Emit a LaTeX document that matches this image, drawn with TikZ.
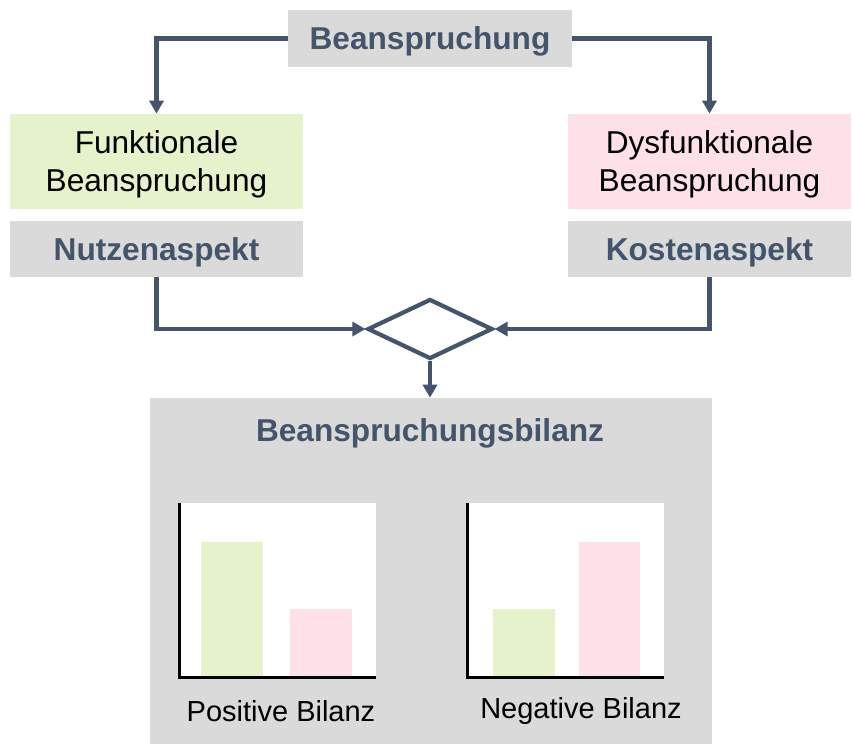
\documentclass[tikz,border=0pt]{standalone}
\usepackage{fontspec}
\setmainfont{Liberation Sans}
\usepackage{xcolor}
\usetikzlibrary{positioning, shapes.geometric, arrows.meta}

\definecolor{slate}{HTML}{44546A}
\definecolor{boxgray}{HTML}{DADADA}
\definecolor{lightgreen}{HTML}{E6F2CC}
\definecolor{lightpink}{HTML}{FDE0E8}

\begin{document}
\begin{tikzpicture}
	[
	   x = 0.02cm, y = -0.02cm,
	   label/.style = {fill=boxgray, text=slate, inner sep=0pt, text depth=0pt,
	      font=\fontsize{18}{21.6}\selectfont\bfseries},
	   aspect/.style = {label, minimum width=5.86cm, minimum height=1.12cm},
	   kind/.style = {inner sep=0pt, align=center, minimum width=5.86cm, text depth=0pt,
	      minimum height=1.9cm, font=\fontsize{18}{21.6}\selectfont},
	   flow/.style = {draw=slate, line width=2.4pt, -{Triangle[width=0.28cm, length=0.26cm]}},
	   bar/.style = {anchor=south, inner sep=0pt, minimum width=1.24cm},
	   chart/.style = {fill=white, inner sep=0pt, minimum width=3.92cm, minimum height=3.48cm},
	]
	\useasboundingbox (0,0) rectangle (853,744);

	% top part
	\node[label, minimum width=5.68cm, minimum height=1.14cm] (bean) at (430,38.5) {Beanspruchung};
	\node[kind, fill=lightgreen] (funk) at (156.5,161.5) {Funktionale\\Beanspruchung};
	\node[kind, fill=lightpink, minimum width=5.66cm] (dysf) at (709.5,161.5) {Dysfunktionale\\Beanspruchung};
	\node[aspect] (nutz) at (156.5,249) {Nutzenaspekt};
	\node[aspect, minimum width=5.66cm] (kost) at (709.5,249) {Kostenaspekt};
	\node[diamond, draw=slate, line width=2.4pt, inner sep=0pt,
	      minimum width=2.5cm, minimum height=1.2cm] (merge) at (430,329) {};

	% balance box
	\node[fill=boxgray, inner sep=0pt, minimum width=11.24cm, minimum height=6.92cm] (bilanz) at (431,571) {};
	\node[text=slate, text depth=0pt, font=\fontsize{18}{21.6}\selectfont\bfseries] (title) at (430,430) {Beanspruchungsbilanz};

	\node[chart] (pos) at (278,590) {};
	\node[chart] (neg) at (566,590) {};
	\node[bar, fill=lightgreen, minimum height=2.7cm] (posgain) at (232,677) {};
	\node[bar, fill=lightpink, minimum height=1.36cm] (poscost) at (321,677) {};
	\node[bar, fill=lightgreen, minimum height=1.36cm] (neggain) at (524,677) {};
	\node[bar, fill=lightpink, minimum height=2.7cm] (negcost) at (609.5,677) {};
	\draw[line width=1.8pt] (pos.north west) |- (pos.south east);
	\draw[line width=1.8pt] (neg.north west) |- (neg.south east);
	\node[font=\fontsize{16.5}{20}\selectfont] (poslabel) at (281,711) {Positive Bilanz};
	\node[font=\fontsize{16.5}{20}\selectfont] (neglabel) at (581,711) {Negative Bilanz};

	% connectors
	\draw[flow] (bean.west) -| (funk.north);
	\draw[flow] (bean.east) -| (dysf.north);
	\draw[flow] (nutz.south) |- (merge.west);
	\draw[flow] (kost.south) |- (merge.east);
	\draw[flow] (merge.south) -- (merge.south |- bilanz.north);
\end{tikzpicture}
\end{document}
